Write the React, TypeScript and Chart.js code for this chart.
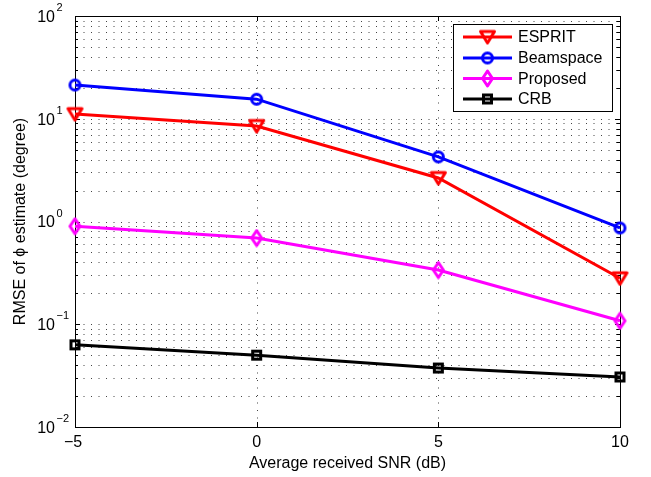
import React, { useEffect, useRef } from 'react';
import { Chart, registerables } from 'chart.js';

Chart.register(...registerables);

// ---- data ----
const snr = [-5, 0, 5, 10];
const esprit = [11.1, 8.5, 2.65, 0.28];
const beamspace = [21.3, 15.5, 4.25, 0.865];
const proposed = [0.9, 0.69, 0.337, 0.108];
const crb = [0.063, 0.05, 0.0375, 0.0307];
const seriesNames = ['ESPRIT', 'Beamspace', 'Proposed', 'CRB'];
const xTicks = [-5, 0, 5, 10];
const yDecades = [-2, -1, 0, 1, 2];
const xTitle = 'Average received SNR (dB)';
const yTitle = 'RMSE of \u03D5 estimate (degree)';

const FONT = '"Liberation Sans", Arial, Helvetica, sans-serif';

function mk(w: number, h: number, draw: (g: CanvasRenderingContext2D) => void) {
  const c = document.createElement('canvas');
  c.width = w;
  c.height = h;
  const g = c.getContext('2d')!;
  draw(g);
  return c;
}

function makeMarkers() {
  const tri = mk(19, 17, (g) => {
    g.strokeStyle = '#ff0000';
    g.lineWidth = 3;
    g.lineJoin = 'round';
    g.beginPath();
    g.moveTo(2.5, 3);
    g.lineTo(16.5, 3);
    g.lineTo(9.5, 14.5);
    g.closePath();
    g.stroke();
  });
  const circ = mk(15, 15, (g) => {
    g.strokeStyle = '#0000ff';
    g.lineWidth = 3;
    g.beginPath();
    g.arc(7.5, 7.5, 5, 0, Math.PI * 2);
    g.stroke();
  });
  const dia = mk(15, 19, (g) => {
    g.strokeStyle = '#ff00ff';
    g.lineWidth = 3;
    g.lineJoin = 'round';
    g.beginPath();
    g.moveTo(7.5, 2);
    g.lineTo(12.5, 9.5);
    g.lineTo(7.5, 17);
    g.lineTo(2.5, 9.5);
    g.closePath();
    g.stroke();
  });
  const sq = mk(15, 15, (g) => {
    g.strokeStyle = '#000000';
    g.lineWidth = 3;
    g.strokeRect(3.5, 3.5, 8, 8);
  });
  return [tri, circ, dia, sq];
}

export default function App() {
  const ref = useRef<HTMLCanvasElement | null>(null);

  useEffect(() => {
    const canvas = ref.current;
    if (!canvas) return;
    const markers = makeMarkers();
    const colors = ['#ff0000', '#0000ff', '#ff00ff', '#000000'];
    const values = [esprit, beamspace, proposed, crb];

    const gridPlugin = {
      id: 'matlabGrid',
      beforeDatasetsDraw(chart: any) {
        const { ctx, chartArea: a, scales } = chart;
        const xs = scales.x;
        const ys = scales.y;
        ctx.save();
        ctx.strokeStyle = '#444';
        ctx.lineWidth = 1;
        ctx.setLineDash([1, 6.5]);
        for (let d = yDecades[0]; d < yDecades[yDecades.length - 1]; d++) {
          for (let m = 1; m <= 9; m++) {
            const v = m * Math.pow(10, d);
            if (v <= ys.min * 1.0001 || v >= ys.max * 0.9999) continue;
            const y = Math.round(ys.getPixelForValue(v)) + 0.5;
            ctx.beginPath();
            ctx.moveTo(a.left + 1, y);
            ctx.lineTo(a.right, y);
            ctx.stroke();
          }
        }
        for (const t of xTicks) {
          if (t <= xs.min || t >= xs.max) continue;
          const x = Math.round(xs.getPixelForValue(t)) + 0.5;
          ctx.beginPath();
          ctx.moveTo(x, a.bottom - 1);
          ctx.lineTo(x, a.top);
          ctx.stroke();
        }
        ctx.setLineDash([]);
        ctx.strokeStyle = '#000';
        ctx.lineWidth = 1;
        ctx.strokeRect(Math.round(a.left) + 0.5, Math.round(a.top) + 0.5, Math.round(a.right - a.left), Math.round(a.bottom - a.top));
        ctx.beginPath();
        for (let d = yDecades[0]; d < yDecades[yDecades.length - 1]; d++) {
          for (let m = 1; m <= 9; m++) {
            const v = m * Math.pow(10, d);
            if (v <= ys.min * 1.0001) continue;
            const y = Math.round(ys.getPixelForValue(v)) + 0.5;
            const len = m === 1 ? 5 : 3;
            ctx.moveTo(a.left, y);
            ctx.lineTo(a.left + len, y);
            ctx.moveTo(a.right, y);
            ctx.lineTo(a.right - len, y);
          }
        }
        for (const t of xTicks) {
          const x = Math.round(xs.getPixelForValue(t)) + 0.5;
          ctx.moveTo(x, a.bottom);
          ctx.lineTo(x, a.bottom - 5);
          ctx.moveTo(x, a.top);
          ctx.lineTo(x, a.top + 5);
        }
        ctx.stroke();
        ctx.restore();
      },
      afterDraw(chart: any) {
        const { ctx, chartArea: a, scales } = chart;
        const xs = scales.x;
        const ys = scales.y;
        ctx.save();
        ctx.fillStyle = '#000';
        for (const d of yDecades) {
          const y = ys.getPixelForValue(Math.pow(10, d));
          ctx.font = `16px ${FONT}`;
          ctx.textAlign = 'right';
          ctx.textBaseline = 'middle';
          ctx.fillText('10', 55, y + 1.5);
          ctx.font = `11px ${FONT}`;
          ctx.textAlign = 'left';
          ctx.fillText(d < 0 ? '\u2212' + Math.abs(d) : String(d), 56.5, y - 8);
        }
        ctx.font = `16px ${FONT}`;
        ctx.textAlign = 'center';
        ctx.textBaseline = 'middle';
        for (const t of xTicks) {
          const x = xs.getPixelForValue(t);
          const lab = t < 0 ? '\u2212' + Math.abs(t) : String(t);
          ctx.fillText(lab, t < 0 ? x - 2 : x, 443);
        }
        ctx.fillText(xTitle, (a.left + a.right) / 2, 464);
        ctx.save();
        ctx.translate(21, (a.top + a.bottom) / 2);
        ctx.rotate(-Math.PI / 2);
        ctx.fillText(yTitle, 0, 0);
        ctx.restore();
        const lx = 453.5, ly = 24.5, lw = 159, lh = 87;
        ctx.fillStyle = '#fff';
        ctx.fillRect(lx, ly, lw, lh);
        ctx.strokeStyle = '#000';
        ctx.lineWidth = 1;
        ctx.strokeRect(lx, ly, lw, lh);
        const rowY = [37, 58, 78.5, 99];
        seriesNames.forEach((name, i) => {
          const y = rowY[i];
          ctx.strokeStyle = colors[i];
          ctx.lineWidth = 3;
          ctx.beginPath();
          ctx.moveTo(463, y);
          ctx.lineTo(512, y);
          ctx.stroke();
          const mkc = markers[i];
          ctx.drawImage(mkc, 487.5 - mkc.width / 2, y - mkc.height / 2);
          ctx.fillStyle = '#000';
          ctx.font = `16px ${FONT}`;
          ctx.textAlign = 'left';
          ctx.textBaseline = 'middle';
          ctx.fillText(name, 518, y + 1);
        });
        ctx.restore();
      },
    };

    const chart = new Chart(canvas, {
      type: 'line',
      data: {
        datasets: seriesNames.map((name, i) => ({
          label: name,
          data: snr.map((x, j) => ({ x, y: values[i][j] })),
          borderColor: colors[i],
          backgroundColor: colors[i],
          borderWidth: 3,
          pointStyle: markers[i] as any,
          pointRadius: 6,
          pointHoverRadius: 6,
          tension: 0,
          clip: false as any,
        })),
      },
      options: {
        responsive: false,
        animation: false,
        devicePixelRatio: 1,
        layout: { padding: { left: 0, right: 31, top: 16, bottom: 0 } },
        plugins: { legend: { display: false }, tooltip: { enabled: false } },
        events: [],
        scales: {
          x: {
            type: 'linear',
            min: -5,
            max: 10,
            ticks: { display: false, stepSize: 5 },
            grid: { display: false },
            border: { display: false },
            afterFit: (s: any) => {
              s.height = 50;
            },
          },
          y: {
            type: 'logarithmic',
            min: 0.01,
            max: 100,
            ticks: { display: false },
            grid: { display: false },
            border: { display: false },
            afterFit: (s: any) => {
              s.width = 75;
            },
          },
        },
      } as any,
      plugins: [gridPlugin],
    });
    return () => chart.destroy();
  }, []);

  return (
    <div style={{ position: 'fixed', left: 0, top: 0, width: 651, height: 477, background: '#fff' }}>
      <canvas ref={ref} width={651} height={477} style={{ display: 'block' }} />
    </div>
  );
}
